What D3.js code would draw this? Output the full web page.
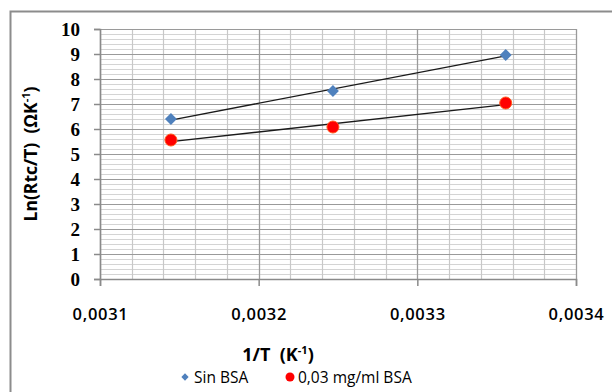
<!DOCTYPE html>
<html>
<head>
<meta charset="utf-8">
<script src="https://cdn.jsdelivr.net/npm/d3@7"></script>
<style>
  body { margin: 0; background: #fff; }
  svg { display: block; }
</style>
</head>
<body>
<div id="chart"></div>
<script>
// data
const invT = [0.0031447, 0.0032468, 0.0033557];
const sinBSA = [6.4, 7.52, 8.96];
const bsa003 = [5.56, 6.08, 7.04];
const seriesNames = ["Sin BSA", "0,03 mg/ml BSA"];
const xTicks = [0.0031, 0.0032, 0.0033, 0.0034];
const yTicks = [0, 1, 2, 3, 4, 5, 6, 7, 8, 9, 10];

const W = 612, H = 392;
const margin = { top: 29, right: 36, bottom: 113, left: 100 };
const width = W - margin.left - margin.right;
const height = H - margin.top - margin.bottom;

const svg = d3.select("#chart").append("svg")
    .attr("width", W)
    .attr("height", H);

// outer chart frame
svg.append("rect")
    .attr("x", 10.5).attr("y", 11.5)
    .attr("width", 700).attr("height", 500)
    .attr("fill", "none")
    .attr("stroke", "#8c8c8c")
    .attr("stroke-width", 2);

const g = svg.append("g")
    .attr("transform", "translate(" + margin.left + "," + margin.top + ")");

var x = d3.scaleLinear().domain([0.0031, 0.0034]).range([0, width]);
var y = d3.scaleLinear().domain([0, 10]).range([height, 0]);

// minor gridlines
const yMinor = d3.range(0, 10.001, 0.2);
const xMinor = d3.range(0, 16).map(i => 0.0031 + i * 0.00002);
g.selectAll(".ymin").data(yMinor).enter().append("line")
    .attr("x1", 0).attr("x2", width)
    .attr("y1", d => Math.round(y(d)) + 0.5).attr("y2", d => Math.round(y(d)) + 0.5)
    .attr("stroke", "#d4d4d4").attr("stroke-width", 1.2);
g.selectAll(".xmin").data(xMinor).enter().append("line")
    .attr("x1", d => Math.round(x(d)) + 0.5).attr("x2", d => Math.round(x(d)) + 0.5)
    .attr("y1", 0).attr("y2", height)
    .attr("stroke", "#c8c8c8").attr("stroke-width", 1.2);

// major gridlines
g.selectAll(".ymaj").data(yTicks).enter().append("line")
    .attr("x1", 0).attr("x2", width)
    .attr("y1", d => Math.round(y(d)) + 0.5).attr("y2", d => Math.round(y(d)) + 0.5)
    .attr("stroke", "#9a9a9a").attr("stroke-width", 1.2);
g.selectAll(".xmaj").data(xTicks).enter().append("line")
    .attr("x1", d => Math.round(x(d)) + 0.5).attr("x2", d => Math.round(x(d)) + 0.5)
    .attr("y1", 0).attr("y2", height)
    .attr("stroke", "#9a9a9a").attr("stroke-width", 1.2);

// axes
const yAxis = g.append("g")
    .call(d3.axisLeft(y).tickValues(yTicks).tickSize(6).tickPadding(14));
yAxis.select(".domain").attr("stroke", "#8a8a8a").attr("stroke-width", 1.5);
yAxis.selectAll(".tick line").attr("stroke", "#8a8a8a").attr("stroke-width", 1.5);
yAxis.selectAll("text")
    .attr("font-family", "'Liberation Serif', 'DejaVu Serif', serif")
    .attr("font-weight", "bold")
    .attr("font-size", 19)
    .attr("fill", "#000")
    .attr("dy", "0.33em");

const xAxis = g.append("g")
    .attr("transform", "translate(0," + height + ")")
    .call(d3.axisBottom(x).tickValues(xTicks).tickSize(7).tickPadding(22)
        .tickFormat(d => d.toFixed(4).replace(".", ",")));
xAxis.select(".domain").attr("stroke", "#8a8a8a").attr("stroke-width", 1.5);
xAxis.selectAll(".tick line").attr("stroke", "#8a8a8a").attr("stroke-width", 1.5);
xAxis.selectAll("text")
    .attr("font-family", "'Open Sans', 'Liberation Sans', sans-serif")
    .attr("font-weight", 600)
    .attr("font-size", 16.5)
    .attr("letter-spacing", 0.7)
    .attr("fill", "#000");

// trendlines (least squares over each series)
function fit(xs, ys) {
    const mx = d3.mean(xs), my = d3.mean(ys);
    const b = d3.sum(xs, (v, i) => (v - mx) * (ys[i] - my)) / d3.sum(xs, v => (v - mx) * (v - mx));
    return v => my + b * (v - mx);
}
[sinBSA, bsa003].forEach(ys => {
    const f = fit(invT, ys);
    const x0 = d3.min(invT), x1 = d3.max(invT);
    g.append("line")
        .attr("x1", x(x0)).attr("y1", y(f(x0)))
        .attr("x2", x(x1)).attr("y2", y(f(x1)))
        .attr("stroke", "#1a1a1a").attr("stroke-width", 1.3);
});

// markers
const diamond = d3.symbol().type(d3.symbolDiamond2).size(90);
g.selectAll(".sin").data(invT).enter().append("path")
    .attr("d", diamond)
    .attr("transform", (d, i) => "translate(" + x(d) + "," + y(sinBSA[i]) + ")")
    .attr("fill", "#4f81bd");
g.selectAll(".bsa").data(invT).enter().append("circle")
    .attr("cx", d => x(d)).attr("cy", (d, i) => y(bsa003[i]))
    .attr("r", 6)
    .attr("fill", "#ff0000")
    .attr("stroke", "#ff5a1e").attr("stroke-width", 1);

// axis titles
svg.append("text")
    .attr("x", 278).attr("y", 361)
    .attr("text-anchor", "middle")
    .attr("font-family", "'Open Sans', 'Liberation Sans', sans-serif")
    .attr("font-weight", "bold").attr("font-size", 18)
    .html("1/T&#160;&#160;(K<tspan font-size='11' dy='-7'>-1</tspan><tspan dy='7'>)</tspan>");

svg.append("text")
    .attr("transform", "translate(37,154) rotate(-90)")
    .attr("text-anchor", "middle")
    .attr("font-family", "'Open Sans', 'Liberation Sans', sans-serif")
    .attr("font-weight", "bold").attr("font-size", 17.5)
    .html("Ln(Rtc/T)&#160;&#160;(ΩK<tspan font-size='11' dy='-7'>-1</tspan><tspan dy='7'>)</tspan>");

// legend
const leg = svg.append("g").attr("font-family", "'Open Sans', 'Liberation Sans', sans-serif")
    .attr("font-size", 15.5);
leg.append("path")
    .attr("d", d3.symbol().type(d3.symbolDiamond2).size(34))
    .attr("transform", "translate(185,377)")
    .attr("fill", "#4f81bd");
leg.append("text").attr("x", 194).attr("y", 382.5).text(seriesNames[0]);
leg.append("circle").attr("cx", 290).attr("cy", 377).attr("r", 4.5).attr("fill", "#ff0000");
leg.append("text").attr("x", 298).attr("y", 382.5).text(seriesNames[1]);
</script>
</body>
</html>
